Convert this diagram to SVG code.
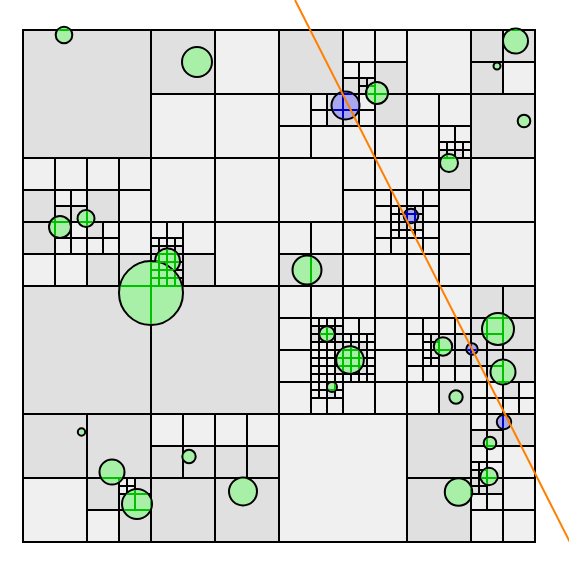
<svg xmlns="http://www.w3.org/2000/svg" width="569" height="566" viewBox="0 0 569 566">
<style>
.bg{fill:#f0f0f0}
.d{fill:#e0e0e0}
.gl{fill:none;stroke-width:2;stroke-linecap:square}
.cg{fill:#a8f0a8;stroke:#000;stroke-width:2}
.cb{fill:#a8a8f0;stroke:#000;stroke-width:2}
.ray{stroke:#ff8000;stroke-width:2;fill:none}
</style>
<defs>
<path id="grid" class="gl" d="M23,30h512v512h-512z
M279,30v512M23,286h512
M151,30v256M23,158h256
M407,30v256M279,158h256
M151,286v256M23,414h256
M407,286v256M279,414h256
M215,30v128M151,94h128
M87,158v128M23,222h128
M55,158v64M23,190h64
M71,190v32M55,206h32
M119,158v64M87,190h64
M55,222v64M23,254h64
M71,222v32M55,238h32
M119,222v64M87,254h64
M103,222v32M87,238h32
M215,158v128M151,222h128
M183,222v64M151,254h64
M167,222v32M151,238h32
M159,238v16M151,246h16
M175,238v16M167,246h16
M167,254v32M151,270h32
M159,254v16M151,262h16
M175,254v16M167,262h16
M159,270v16M151,278h16
M175,270v16M167,278h16
M343,30v128M279,94h128
M375,30v64M343,62h64
M359,62v32M343,78h32
M367,78v16M359,86h16
M311,94v64M279,126h64
M327,94v32M311,110h32
M375,94v64M343,126h64
M359,94v32M343,110h32
M471,30v128M407,94h128
M503,30v64M471,62h64
M439,94v64M407,126h64
M455,126v32M439,142h32
M447,142v16M439,150h16
M463,142v16M455,150h16
M343,158v128M279,222h128
M375,158v64M343,190h64
M391,190v32M375,206h32
M399,206v16M391,214h16
M311,222v64M279,254h64
M375,222v64M343,254h64
M391,222v32M375,238h32
M399,222v16M391,230h16
M471,158v128M407,222h128
M439,158v64M407,190h64
M423,190v32M407,206h32
M415,206v16M407,214h16
M439,222v64M407,254h64
M423,222v32M407,238h32
M415,222v16M407,230h16
M87,414v128M23,478h128
M119,478v64M87,510h64
M135,478v32M119,494h32
M127,478v16M119,486h16
M215,414v128M151,478h128
M183,414v64M151,446h64
M247,414v64M215,446h64
M343,286v128M279,350h128
M311,286v64M279,318h64
M327,318v32M311,334h32
M319,318v16M311,326h16
M335,318v16M327,326h16
M375,286v64M343,318h64
M359,318v32M343,334h32
M311,350v64M279,382h64
M375,350v64M343,382h64
M319,334v16M311,342h16
M335,334v16M327,342h16
M351,334v16M343,342h16
M367,334v16M359,342h16
M327,350v32M311,366h32
M359,350v32M343,366h32
M319,350v16M311,358h16
M335,350v16M327,358h16
M351,350v16M343,358h16
M367,350v16M359,358h16
M319,366v16M311,374h16
M335,366v16M327,374h16
M351,366v16M343,374h16
M367,366v16M359,374h16
M327,382v32M311,398h32
M319,382v16M311,390h16
M335,382v16M327,390h16
M471,286v128M407,350h128
M439,286v64M407,318h64
M423,318v32M407,334h32
M455,318v32M439,334h32
M431,334v16M423,342h16
M503,286v64M471,318h64
M487,318v32M471,334h32
M439,350v64M407,382h64
M423,350v32M407,366h32
M455,350v32M439,366h32
M431,350v16M423,358h16
M503,350v64M471,382h64
M487,350v32M471,366h32
M487,382v32M471,398h32
M519,382v32M503,398h32
M471,414v128M407,478h128
M503,414v64M471,446h64
M487,414v32M471,430h32
M487,446v32M471,462h32
M479,462v16M471,470h16
M503,478v64M471,510h64
M487,478v32M471,494h32
M479,478v16M471,486h16"/>
<clipPath id="clipG">
<circle cx="64" cy="35" r="7.3"/>
<circle cx="197" cy="62" r="14"/>
<circle cx="377" cy="93" r="10"/>
<circle cx="515.5" cy="41" r="11.5"/>
<circle cx="497" cy="66" r="2.5"/>
<circle cx="524" cy="121" r="5.3"/>
<circle cx="449" cy="163" r="8"/>
<circle cx="60" cy="227" r="10"/>
<circle cx="86" cy="218.5" r="7.5"/>
<circle cx="167.5" cy="261" r="11.5"/>
<circle cx="151" cy="293" r="31"/>
<circle cx="307" cy="270" r="13.5"/>
<circle cx="327" cy="334" r="6.8"/>
<circle cx="350" cy="360" r="12.8"/>
<circle cx="332" cy="387" r="4"/>
<circle cx="443" cy="346.5" r="8.2"/>
<circle cx="498" cy="329" r="15"/>
<circle cx="503" cy="372" r="11.5"/>
<circle cx="456" cy="397" r="5.7"/>
<circle cx="490" cy="443" r="5.3"/>
<circle cx="489" cy="476.5" r="7.7"/>
<circle cx="458.5" cy="492" r="12.7"/>
<circle cx="81.5" cy="432" r="2.7"/>
<circle cx="112" cy="472" r="11.5"/>
<circle cx="137" cy="504" r="14"/>
<circle cx="189" cy="456.5" r="5.7"/>
<circle cx="243" cy="491.5" r="13"/>
</clipPath>
<clipPath id="clipB">
<circle cx="345.5" cy="105.5" r="13"/>
<circle cx="411" cy="216" r="6.3"/>
<circle cx="472" cy="349" r="4.7"/>
<circle cx="504" cy="422" r="6.2"/>
</clipPath>
</defs>
<g id="cells">
<rect class="bg" x="23" y="30" width="512" height="512"/>
<rect class="d" x="23" y="30" width="128" height="128"/>
<rect class="d" x="151" y="30" width="64" height="64"/>
<rect class="d" x="23" y="190" width="32" height="32"/>
<rect class="d" x="55" y="206" width="32" height="16"/>
<rect class="d" x="87" y="190" width="32" height="32"/>
<rect class="d" x="23" y="222" width="32" height="32"/>
<rect class="d" x="55" y="222" width="16" height="16"/>
<rect class="d" x="87" y="222" width="16" height="16"/>
<rect class="d" x="87" y="254" width="64" height="32"/>
<rect class="d" x="151" y="246" width="32" height="8"/>
<rect class="d" x="151" y="254" width="64" height="32"/>
<rect class="d" x="279" y="30" width="64" height="64"/>
<rect class="d" x="343" y="78" width="32" height="16"/>
<rect class="d" x="375" y="62" width="32" height="64"/>
<rect class="d" x="327" y="94" width="32" height="32"/>
<rect class="d" x="471" y="30" width="64" height="32"/>
<rect class="d" x="471" y="62" width="32" height="32"/>
<rect class="d" x="471" y="94" width="64" height="64"/>
<rect class="d" x="439" y="150" width="24" height="8"/>
<rect class="d" x="439" y="158" width="32" height="32"/>
<rect class="d" x="399" y="206" width="24" height="24"/>
<rect class="d" x="279" y="254" width="64" height="32"/>
<rect class="d" x="23" y="286" width="256" height="128"/>
<rect class="d" x="23" y="414" width="128" height="64"/>
<rect class="d" x="87" y="478" width="32" height="32"/>
<rect class="d" x="135" y="478" width="16" height="16"/>
<rect class="d" x="119" y="494" width="32" height="48"/>
<rect class="d" x="151" y="446" width="128" height="32"/>
<rect class="d" x="151" y="478" width="128" height="64"/>
<rect class="d" x="311" y="326" width="32" height="16"/>
<rect class="d" x="335" y="342" width="32" height="32"/>
<rect class="d" x="327" y="382" width="8" height="16"/>
<rect class="d" x="431" y="334" width="8" height="24"/>
<rect class="d" x="439" y="334" width="32" height="32"/>
<rect class="d" x="471" y="286" width="64" height="64"/>
<rect class="d" x="471" y="350" width="16" height="16"/>
<rect class="d" x="487" y="350" width="48" height="32"/>
<rect class="d" x="439" y="382" width="32" height="32"/>
<rect class="d" x="503" y="382" width="16" height="16"/>
<rect class="d" x="407" y="414" width="64" height="128"/>
<rect class="d" x="487" y="414" width="16" height="16"/>
<rect class="d" x="503" y="414" width="32" height="32"/>
<rect class="d" x="471" y="430" width="32" height="16"/>
<rect class="d" x="471" y="470" width="32" height="24"/>
</g>
<g id="grid-lines">
<use href="#grid" stroke="#000"/>
</g>
<g id="circles">
<circle class="cg" cx="64" cy="35" r="8.3"/>
<circle class="cg" cx="197" cy="62" r="15"/>
<circle class="cg" cx="377" cy="93" r="11"/>
<circle class="cg" cx="515.5" cy="41" r="12.5"/>
<circle class="cg" cx="497" cy="66" r="3.5"/>
<circle class="cg" cx="524" cy="121" r="6.3"/>
<circle class="cg" cx="449" cy="163" r="9"/>
<circle class="cg" cx="60" cy="227" r="11"/>
<circle class="cg" cx="86" cy="218.5" r="8.5"/>
<circle class="cg" cx="167.5" cy="261" r="12.5"/>
<circle class="cg" cx="151" cy="293" r="32"/>
<circle class="cg" cx="307" cy="270" r="14.5"/>
<circle class="cg" cx="327" cy="334" r="7.8"/>
<circle class="cg" cx="350" cy="360" r="13.8"/>
<circle class="cg" cx="332" cy="387" r="5"/>
<circle class="cg" cx="443" cy="346.5" r="9.2"/>
<circle class="cg" cx="498" cy="329" r="16"/>
<circle class="cg" cx="503" cy="372" r="12.5"/>
<circle class="cg" cx="456" cy="397" r="6.7"/>
<circle class="cg" cx="490" cy="443" r="6.3"/>
<circle class="cg" cx="489" cy="476.5" r="8.7"/>
<circle class="cg" cx="458.5" cy="492" r="13.7"/>
<circle class="cg" cx="81.5" cy="432" r="3.7"/>
<circle class="cg" cx="112" cy="472" r="12.5"/>
<circle class="cg" cx="137" cy="504" r="15"/>
<circle class="cg" cx="189" cy="456.5" r="6.7"/>
<circle class="cg" cx="243" cy="491.5" r="14"/>
<circle class="cb" cx="345.5" cy="105.5" r="14"/>
<circle class="cb" cx="411" cy="216" r="7.3"/>
<circle class="cb" cx="472" cy="349" r="5.7"/>
<circle class="cb" cx="504" cy="422" r="7.2"/>
</g>
<g id="inner-lines">
<use href="#grid" stroke="#00c000" clip-path="url(#clipG)"/>
<use href="#grid" stroke="#0000c0" clip-path="url(#clipB)"/>
</g>
<g id="ray">
<line class="ray" x1="295" y1="0" x2="582" y2="566"/>
</g>
</svg>
